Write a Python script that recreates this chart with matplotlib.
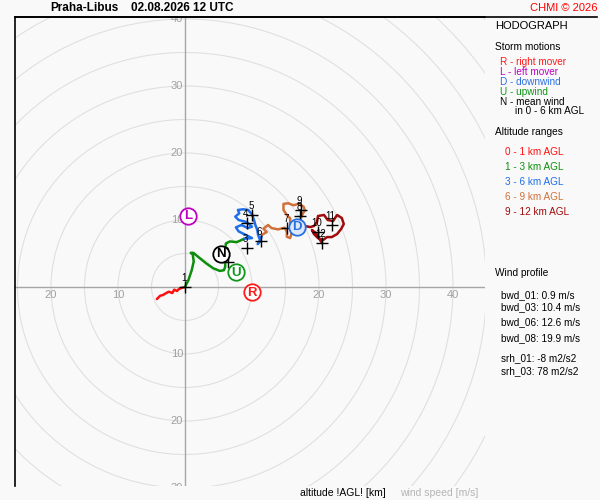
"""Hodograph for Praha-Libus, 02.08.2026 12 UTC, redrawn with matplotlib.

Writes out.png (600x500).
"""
import matplotlib
matplotlib.use("Agg")
import matplotlib.pyplot as plt
import numpy as np
from matplotlib.lines import Line2D
from matplotlib.patches import Circle

plt.rcParams["font.family"] = ["Liberation Sans", "DejaVu Sans"]

STATION = "Praha-Libus"
RUN_TIME = "02.08.2026 12 UTC"
COPYRIGHT = "CHMI \u00a9 2026"

# hodograph trace per altitude range, u / v components in m/s
U_0_1 = [-4.2, -3.7, -3.3, -2.8, -2.4, -1.9, -1.6, -1.2, -0.9, -0.4, 0.0]
V_0_1 = [-1.8, -1.3, -1.2, -0.9, -0.7, -0.9, -0.4, -0.6, -0.3, -0.1, 0.0]

U_1_3 = [0.0, 0.5, 1.0, 1.3, 1.15, 0.85, 1.25, 2.2, 3.2, 4.2, 5.2, 5.8, 6.0,
         6.0, 6.0, 6.1, 6.7, 7.7, 8.2, 8.8]
V_1_3 = [0.0, 1.0, 2.5, 3.8, 4.9, 5.1, 5.1, 4.3, 3.5, 2.8, 2.4, 2.5, 3.0,
         4.0, 5.5, 6.5, 6.8, 6.7, 6.9, 7.2]

U_3_6 = [8.8, 10.0, 9.0, 8.0, 7.6, 8.4, 9.4, 10.0, 9.2, 8.0, 7.5, 8.1, 7.9,
         8.7, 9.4, 10.0, 10.3, 10.5, 10.8, 10.9, 11.2, 10.85, 11.2, 11.5]
V_3_6 = [7.2, 7.3, 7.8, 8.3, 8.9, 9.25, 8.8, 9.0, 9.7, 10.0, 10.5, 11.0, 11.5,
         11.6, 11.5, 10.85, 10.0, 9.25, 8.5, 7.8, 7.0, 6.4, 6.8, 7.8]

U_6_9 = [11.5, 12.2, 11.7, 12.4, 12.9, 13.9, 14.9, 15.2, 15.2, 15.7, 15.9, 15.7,
         15.7, 15.2, 14.7, 14.7, 15.4, 16.2, 16.9, 17.7, 17.9, 17.6, 17.3, 17.3, 17.9]
V_6_9 = [7.8, 8.2, 8.7, 9.25, 8.8, 8.6, 8.85, 8.2, 7.5, 7.3, 8.0, 9.0,
         10.25, 10.75, 11.5, 12.4, 12.5, 12.2, 12.4, 12.0, 11.4, 11.0, 10.25, 9.5, 9.1]

U_9_12 = [17.9, 18.7, 19.25, 19.7, 19.85, 20.75, 21.3, 22.1, 22.7, 23.4, 23.7,
          23.3, 22.7, 21.9, 21.2, 20.6, 19.85, 19.25, 18.95, 19.55, 20.45]
V_9_12 = [9.1, 8.95, 9.1, 9.7, 10.6, 10.75, 10.0, 9.85, 10.75, 10.3, 9.4,
          8.65, 7.9, 7.45, 7.45, 7.0, 7.3, 7.9, 8.5, 8.05, 6.55]

RANGE_LABELS = ["0 - 1 km AGL", "1 - 3 km AGL", "3 - 6 km AGL",
                "6 - 9 km AGL", "9 - 12 km AGL"]
RANGE_COLORS = ["#ff1010", "#0d8f0d", "#1f6fe8", "#d0703a", "#a00c0c"]

# wind at each full km AGL
KM_LEVELS = [1, 2, 3, 4, 5, 6, 7, 8, 9, 10, 11, 12]
KM_U = [0.0, 6.35, 9.2, 9.2, 10.0, 11.3, 15.2, 17.2, 17.25, 19.85, 21.9, 20.4]
KM_V = [0.0, 3.8, 5.8, 9.55, 10.75, 6.9, 8.85, 10.6, 11.55, 8.2, 9.25, 6.6]

# storm motions
STORM_KEYS = ["R", "L", "D", "U", "N"]
STORM_U = [10.05, 0.45, 16.7, 7.55, 5.3]
STORM_V = [-0.8, 10.6, 8.95, 2.2, 4.95]
STORM_NAMES = ["right mover", "left mover", "downwind", "upwind", "mean wind"]
STORM_COLORS = ["#ff1a1a", "#c000c0", "#2a70e0", "#10961a", "#000000"]
STORM_FILLS = ["#ffffff", "#ffffff", "#dce9fc", "#ffffff", "#ffffff"]

PROFILE_NAMES = ["bwd_01", "bwd_03", "bwd_06", "bwd_08", "srh_01", "srh_03"]
PROFILE_VALUES = ["0.9 m/s", "10.4 m/s", "12.6 m/s", "19.9 m/s",
                  "-8 m2/s2", "78 m2/s2"]

X_TICKS = [-20, -10, 10, 20, 30, 40]
Y_TICKS = [-30, -20, -10, 10, 20, 30, 40]

BG = "#f9f9f9"
W, H = 600, 500


def fx(x):
    return x / W


def fy(y):
    return 1 - y / H


def draw_hodograph(ax):
    for r in np.arange(5, 80, 5):
        ax.add_patch(Circle((0, 0), r, fill=False, ec="#e0e0e0", lw=0.8, zorder=1))
    ax.axhline(0, color="#a6a6a6", lw=1.0, zorder=2)
    ax.axvline(0, color="#a6a6a6", lw=1.0, zorder=2)
    for t in X_TICKS:
        ax.text(t, -1.25, str(abs(t)), color="#a0a0a0", fontsize=8,
                ha="center", va="center", zorder=2, clip_on=True)
    for t in Y_TICKS:
        ax.text(-0.3, t, str(abs(t)), color="#a0a0a0", fontsize=8,
                ha="right", va="center", zorder=2, clip_on=True)

    segs = [(U_0_1, V_0_1), (U_1_3, V_1_3), (U_3_6, V_3_6),
            (U_6_9, V_6_9), (U_9_12, V_9_12)]
    for (u, v), c in zip(segs, RANGE_COLORS):
        ax.plot(u, v, color=c, lw=1.8, solid_joinstyle="round",
                solid_capstyle="round", zorder=3)

    ax.plot(KM_U, KM_V, "+", color="black", ms=9, mew=1.0, zorder=4)
    for k, u, v in zip(KM_LEVELS, KM_U, KM_V):
        ax.text(u - 0.15, v + 1.35, str(k), fontsize=7, ha="center",
                va="center", zorder=4)

    for key, u, v, c, fc in zip(STORM_KEYS, STORM_U, STORM_V, STORM_COLORS, STORM_FILLS):
        ax.scatter([u], [v], s=140, facecolor=fc, edgecolor=c, lw=1.3, zorder=5)
        ax.text(u, v - 0.05, key, color=c, fontsize=9.5, ha="center", va="center",
                fontweight="bold", zorder=6)


def draw_panel(fig):
    fig.text(fx(50), fy(8), STATION, fontsize=8.5, fontweight="bold", va="center")
    fig.text(fx(131), fy(8), RUN_TIME, fontsize=8.5, fontweight="bold", va="center")
    fig.text(fx(597), fy(8), COPYRIGHT, fontsize=8, color="#ff0000",
             ha="right", va="center")
    fig.add_artist(Line2D([fx(15), fx(597)], [fy(17), fy(17)], color="black", lw=1.2))

    fig.text(fx(495), fy(26), "HODOGRAPH", fontsize=8, va="center")
    fig.text(fx(495), fy(47), "Storm motions", fontsize=7.3, va="center")
    y = 61.7
    for key, name, c in zip(STORM_KEYS, STORM_NAMES, STORM_COLORS):
        fig.text(fx(500.5), fy(y), f"{key} - {name}", fontsize=7.2, color=c, va="center")
        y += 10
    fig.text(fx(515), fy(111.5), "in 0 - 6 km AGL", fontsize=7.2, va="center")

    fig.text(fx(495), fy(132), "Altitude ranges", fontsize=7.3, va="center")
    for i, (lab, c) in enumerate(zip(RANGE_LABELS, RANGE_COLORS)):
        fig.text(fx(505.3), fy(152 + 15 * i), lab, fontsize=7.2, color=c, va="center")

    fig.text(fx(495), fy(272.7), "Wind profile", fontsize=7.3, va="center")
    ys = [294.7, 307.3, 322.3, 338.3, 357.7, 371.0]
    for name, val, yy in zip(PROFILE_NAMES, PROFILE_VALUES, ys):
        fig.text(fx(500.7), fy(yy), f"{name}: {val}", fontsize=7.2, va="center")

    fig.text(fx(300), fy(492.5), "altitude !AGL! [km]", fontsize=7.5, va="center")
    fig.text(fx(400), fy(492.5), "wind speed [m/s]", fontsize=7.5,
             color="#b4b4b4", va="center")


def main():
    fig = plt.figure(figsize=(W / 100, H / 100), dpi=100, facecolor=BG)
    ax = fig.add_axes([fx(15), 1 - 486 / H, 470 / W, 469 / H])
    ax.set_facecolor(BG)
    ax.set_xlim((15 - 185) / 6.7, (485 - 185) / 6.7)
    ax.set_ylim((287 - 486) / 6.7, (287 - 17) / 6.7)
    ax.set_xticks([])
    ax.set_yticks([])
    for side in ("right", "bottom"):
        ax.spines[side].set_visible(False)
    for side in ("left", "top"):
        ax.spines[side].set_linewidth(1.2)

    draw_hodograph(ax)
    draw_panel(fig)
    fig.savefig("out.png", dpi=100, facecolor=BG)
    plt.close(fig)


if __name__ == "__main__":
    main()
